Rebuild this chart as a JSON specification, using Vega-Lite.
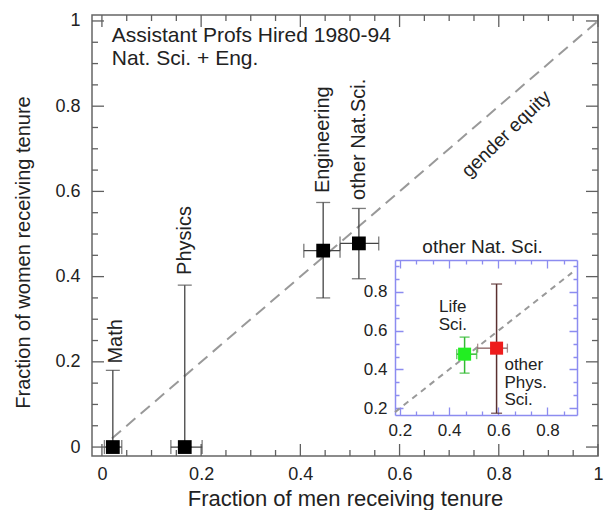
{
  "$schema": "https://vega.github.io/schema/vega-lite/v6.json",
  "width": 506,
  "height": 441,
  "autosize": {"type": "none"},
  "padding": {"left": 92, "top": 15, "right": 15, "bottom": 54},
  "background": "white",
  "config": {
    "view": {"stroke": "#666666", "strokeWidth": 1.5},
    "font": "Liberation Sans",
    "axis": {"labelFont": "Liberation Sans", "titleFont": "Liberation Sans", "labelColor": "#222222", "titleColor": "#222222", "titleFontWeight": "normal"},
    "text": {"font": "Liberation Sans", "color": "#222222"}
  },
  "datasets": {
    "main": [
      {"name": "Math", "x": 0.022, "y": 0, "xlo": 0.005, "xhi": 0.04, "ylo": 0, "yhi": 0.18},
      {"name": "Physics", "x": 0.167, "y": 0, "xlo": 0.139, "xhi": 0.202, "ylo": 0, "yhi": 0.38},
      {"name": "Engineering", "x": 0.446, "y": 0.461, "xlo": 0.407, "xhi": 0.48, "ylo": 0.35, "yhi": 0.574},
      {"name": "other Nat.Sci.", "x": 0.518, "y": 0.478, "xlo": 0.48, "xhi": 0.558, "ylo": 0.395, "yhi": 0.56}
    ],
    "labels": [
      {"t": "Math", "x": 0.028, "y": 0.196},
      {"t": "Physics", "x": 0.167, "y": 0.404},
      {"t": "Engineering", "x": 0.446, "y": 0.596},
      {"t": "other Nat.Sci.", "x": 0.518, "y": 0.58}
    ],
    "textbox": [
      {"t": "Assistant Profs Hired 1980-94", "x": 0.02, "y": 0.95},
      {"t": "Nat. Sci. + Eng.", "x": 0.02, "y": 0.897}
    ],
    "majors": [{"v": 0}, {"v": 0.2}, {"v": 0.4}, {"v": 0.6}, {"v": 0.8}, {"v": 1}],
    "minors": [{"v": 0.05}, {"v": 0.1}, {"v": 0.15}, {"v": 0.25}, {"v": 0.3}, {"v": 0.35}, {"v": 0.45}, {"v": 0.5}, {"v": 0.55}, {"v": 0.65}, {"v": 0.7}, {"v": 0.75}, {"v": 0.85}, {"v": 0.9}, {"v": 0.95}],
    "diag": [{"x": 0.02, "y": 0.02}, {"x": 1, "y": 1}],
    "ge": [{"t": "gender equity", "x": 0.815, "y": 0.735}],
    "life": [{"x": 0.463, "y": 0.479, "xlo": 0.431, "xhi": 0.512, "ylo": 0.381, "yhi": 0.567}],
    "phys": [{"x": 0.593, "y": 0.51, "xlo": 0.516, "xhi": 0.637, "ylo": 0.174, "yhi": 0.841}],
    "idiag": [{"x": 0.18, "y": 0.18}, {"x": 0.9, "y": 0.9}],
    "lifelab": [{"t": "Life", "x": 0.415, "y": 0.722}, {"t": "Sci.", "x": 0.415, "y": 0.629}],
    "physlab": [{"t": "other", "x": 0.625, "y": 0.422}, {"t": "Phys.", "x": 0.625, "y": 0.329}, {"t": "Sci.", "x": 0.625, "y": 0.241}],
    "ititle": [{"t": "other Nat. Sci.", "x": 0.536, "y": 1.033}]
  },
  "layer": [
    {
      "layer": [
        {
          "data": {"name": "diag"},
          "mark": {"type": "line", "color": "#999999", "strokeDash": [12, 7], "strokeWidth": 2},
          "encoding": {
            "x": {"field": "x", "type": "quantitative", "scale": {"domain": [-0.02, 1.0], "range": [0, 506], "nice": false, "zero": false},
              "axis": {"orient": "bottom", "values": [0, 0.2, 0.4, 0.6, 0.8, 1], "format": "~g", "ticks": false, "grid": false, "domain": false, "labelFontSize": 18, "labelPadding": 9, "labelFlush": false, "title": "Fraction of men receiving tenure", "titleFontSize": 22, "titlePadding": 5}},
            "y": {"field": "y", "type": "quantitative", "scale": {"domain": [-0.021, 1.014], "range": [441, 0], "nice": false, "zero": false},
              "axis": {"orient": "left", "values": [0, 0.2, 0.4, 0.6, 0.8, 1], "format": "~g", "ticks": false, "grid": false, "domain": false, "labelFontSize": 18, "labelPadding": 12, "labelFlush": false, "title": "Fraction of women receiving tenure", "titleFontSize": 20, "titlePadding": 21, "titleY": 237}}
          }
        },
        {
          "data": {"name": "majors"},
          "mark": {"type": "tick", "orient": "vertical", "size": 12, "thickness": 1.3, "color": "#606060", "opacity": 1, "yOffset": -6},
          "encoding": {
            "x": {"field": "v", "type": "quantitative", "scale": {"domain": [-0.02, 1.0], "range": [0, 506], "nice": false, "zero": false}, "axis": null},
            "y": {"datum": -0.021, "type": "quantitative", "scale": {"domain": [-0.021, 1.014], "range": [441, 0], "nice": false, "zero": false}, "axis": null}
          }
        },
        {
          "data": {"name": "majors"},
          "mark": {"type": "tick", "orient": "vertical", "size": 12, "thickness": 1.3, "color": "#606060", "opacity": 1, "yOffset": 6},
          "encoding": {
            "x": {"field": "v", "type": "quantitative", "scale": {"domain": [-0.02, 1.0], "range": [0, 506], "nice": false, "zero": false}, "axis": null},
            "y": {"datum": 1.014, "type": "quantitative", "scale": {"domain": [-0.021, 1.014], "range": [441, 0], "nice": false, "zero": false}, "axis": null}
          }
        },
        {
          "data": {"name": "minors"},
          "mark": {"type": "tick", "orient": "vertical", "size": 6, "thickness": 1.3, "color": "#606060", "opacity": 1, "yOffset": -3},
          "encoding": {
            "x": {"field": "v", "type": "quantitative", "scale": {"domain": [-0.02, 1.0], "range": [0, 506], "nice": false, "zero": false}, "axis": null},
            "y": {"datum": -0.021, "type": "quantitative", "scale": {"domain": [-0.021, 1.014], "range": [441, 0], "nice": false, "zero": false}, "axis": null}
          }
        },
        {
          "data": {"name": "minors"},
          "mark": {"type": "tick", "orient": "vertical", "size": 6, "thickness": 1.3, "color": "#606060", "opacity": 1, "yOffset": 3},
          "encoding": {
            "x": {"field": "v", "type": "quantitative", "scale": {"domain": [-0.02, 1.0], "range": [0, 506], "nice": false, "zero": false}, "axis": null},
            "y": {"datum": 1.014, "type": "quantitative", "scale": {"domain": [-0.021, 1.014], "range": [441, 0], "nice": false, "zero": false}, "axis": null}
          }
        },
        {
          "data": {"name": "majors"},
          "mark": {"type": "tick", "orient": "horizontal", "size": 12, "thickness": 1.3, "color": "#606060", "opacity": 1, "xOffset": 6},
          "encoding": {
            "y": {"field": "v", "type": "quantitative", "scale": {"domain": [-0.021, 1.014], "range": [441, 0], "nice": false, "zero": false}, "axis": null},
            "x": {"datum": -0.02, "type": "quantitative", "scale": {"domain": [-0.02, 1.0], "range": [0, 506], "nice": false, "zero": false}, "axis": null}
          }
        },
        {
          "data": {"name": "majors"},
          "mark": {"type": "tick", "orient": "horizontal", "size": 12, "thickness": 1.3, "color": "#606060", "opacity": 1, "xOffset": -6},
          "encoding": {
            "y": {"field": "v", "type": "quantitative", "scale": {"domain": [-0.021, 1.014], "range": [441, 0], "nice": false, "zero": false}, "axis": null},
            "x": {"datum": 1.0, "type": "quantitative", "scale": {"domain": [-0.02, 1.0], "range": [0, 506], "nice": false, "zero": false}, "axis": null}
          }
        },
        {
          "data": {"name": "minors"},
          "mark": {"type": "tick", "orient": "horizontal", "size": 6, "thickness": 1.3, "color": "#606060", "opacity": 1, "xOffset": 3},
          "encoding": {
            "y": {"field": "v", "type": "quantitative", "scale": {"domain": [-0.021, 1.014], "range": [441, 0], "nice": false, "zero": false}, "axis": null},
            "x": {"datum": -0.02, "type": "quantitative", "scale": {"domain": [-0.02, 1.0], "range": [0, 506], "nice": false, "zero": false}, "axis": null}
          }
        },
        {
          "data": {"name": "minors"},
          "mark": {"type": "tick", "orient": "horizontal", "size": 6, "thickness": 1.3, "color": "#606060", "opacity": 1, "xOffset": -3},
          "encoding": {
            "y": {"field": "v", "type": "quantitative", "scale": {"domain": [-0.021, 1.014], "range": [441, 0], "nice": false, "zero": false}, "axis": null},
            "x": {"datum": 1.0, "type": "quantitative", "scale": {"domain": [-0.02, 1.0], "range": [0, 506], "nice": false, "zero": false}, "axis": null}
          }
        },
        {
          "data": {"name": "textbox"},
          "mark": {"type": "text", "align": "left", "baseline": "alphabetic", "fontSize": 21},
          "encoding": {
            "x": {"field": "x", "type": "quantitative", "scale": {"domain": [-0.02, 1.0], "range": [0, 506], "nice": false, "zero": false}, "axis": null},
            "y": {"field": "y", "type": "quantitative", "scale": {"domain": [-0.021, 1.014], "range": [441, 0], "nice": false, "zero": false}, "axis": null},
            "text": {"field": "t"}
          }
        },
        {
          "data": {"name": "labels"},
          "mark": {"type": "text", "angle": 270, "align": "left", "baseline": "middle", "fontSize": 20},
          "encoding": {
            "x": {"field": "x", "type": "quantitative", "scale": {"domain": [-0.02, 1.0], "range": [0, 506], "nice": false, "zero": false}, "axis": null},
            "y": {"field": "y", "type": "quantitative", "scale": {"domain": [-0.021, 1.014], "range": [441, 0], "nice": false, "zero": false}, "axis": null},
            "text": {"field": "t"}
          }
        },
        {
          "data": {"name": "ge"},
          "mark": {"type": "text", "angle": 316, "align": "center", "baseline": "middle", "fontSize": 19},
          "encoding": {
            "x": {"field": "x", "type": "quantitative", "scale": {"domain": [-0.02, 1.0], "range": [0, 506], "nice": false, "zero": false}, "axis": null},
            "y": {"field": "y", "type": "quantitative", "scale": {"domain": [-0.021, 1.014], "range": [441, 0], "nice": false, "zero": false}, "axis": null},
            "text": {"field": "t"}
          }
        },
        {
          "data": {"name": "main"},
          "mark": {"type": "errorbar", "ticks": true, "size": 14, "thickness": 1.3, "color": "#444444"},
          "encoding": {
            "x": {"field": "x", "type": "quantitative", "scale": {"domain": [-0.02, 1.0], "range": [0, 506], "nice": false, "zero": false}, "axis": null},
            "y": {"field": "ylo", "type": "quantitative", "scale": {"domain": [-0.021, 1.014], "range": [441, 0], "nice": false, "zero": false}, "axis": null},
            "y2": {"field": "yhi"}
          }
        },
        {
          "data": {"name": "main"},
          "mark": {"type": "errorbar", "ticks": true, "size": 14, "thickness": 1.3, "color": "#444444"},
          "encoding": {
            "y": {"field": "y", "type": "quantitative", "scale": {"domain": [-0.021, 1.014], "range": [441, 0], "nice": false, "zero": false}, "axis": null},
            "x": {"field": "xlo", "type": "quantitative", "scale": {"domain": [-0.02, 1.0], "range": [0, 506], "nice": false, "zero": false}, "axis": null},
            "x2": {"field": "xhi"}
          }
        },
        {
          "data": {"name": "main"},
          "mark": {"type": "square", "filled": true, "size": 190, "color": "black", "opacity": 1},
          "encoding": {
            "x": {"field": "x", "type": "quantitative", "scale": {"domain": [-0.02, 1.0], "range": [0, 506], "nice": false, "zero": false}, "axis": null},
            "y": {"field": "y", "type": "quantitative", "scale": {"domain": [-0.021, 1.014], "range": [441, 0], "nice": false, "zero": false}, "axis": null}
          }
        }
      ],
      "resolve": {"axis": {"x": "independent", "y": "independent"}}
    },
    {
      "layer": [
        {
          "data": {"name": "idiag"},
          "mark": {"type": "line", "color": "#999999", "strokeDash": [6, 5], "strokeWidth": 2},
          "encoding": {
            "x": {"field": "x", "type": "quantitative", "scale": {"domain": [0.18, 0.92], "range": [303, 485], "nice": false, "zero": false},
              "axis": {"orient": "bottom", "offset": -41, "values": [0.2, 0.4, 0.6, 0.8], "format": "~g", "ticks": false, "grid": false, "domain": true, "domainColor": "#8c8cf0", "domainWidth": 1.5, "labelFontSize": 17, "labelPadding": 7, "labelFlush": false, "title": null}},
            "y": {"field": "y", "type": "quantitative", "scale": {"domain": [0.165, 0.965], "range": [400, 245], "nice": false, "zero": false},
              "axis": {"orient": "left", "offset": -303, "values": [0.2, 0.4, 0.6, 0.8], "format": "~g", "ticks": false, "grid": false, "domain": true, "domainColor": "#8c8cf0", "domainWidth": 1.5, "labelFontSize": 17, "labelPadding": 8, "labelFlush": false, "title": null}}
          }
        },
        {
          "data": {"name": "lifelab"},
          "mark": {"type": "text", "align": "center", "baseline": "middle", "fontSize": 17},
          "encoding": {
            "x": {"field": "x", "type": "quantitative", "scale": {"domain": [0.18, 0.92], "range": [303, 485], "nice": false, "zero": false},
              "axis": {"orient": "top", "values": [0.2667,0.3333,0.4667,0.5333,0.6667,0.7333,0.8667], "labels": false, "domain": false, "ticks": false, "title": null, "grid": true, "gridColor": "#8c8cf0", "gridWidth": 1.3, "gridOpacity": 1, "gridDash": [4, 147]}},
            "y": {"field": "y", "type": "quantitative", "scale": {"domain": [0.165, 0.965], "range": [400, 245], "nice": false, "zero": false},
              "axis": {"orient": "left", "values": [0.2667,0.3333,0.4667,0.5333,0.6667,0.7333,0.8667,0.9333], "labels": false, "domain": false, "ticks": false, "title": null, "grid": true, "gridColor": "#8c8cf0", "gridWidth": 1.3, "gridOpacity": 1, "gridDash": [4, 174]}},
            "text": {"field": "t"}
          }
        },
        {
          "data": {"name": "physlab"},
          "mark": {"type": "text", "align": "left", "baseline": "middle", "fontSize": 17},
          "encoding": {
            "x": {"field": "x", "type": "quantitative", "scale": {"domain": [0.18, 0.92], "range": [303, 485], "nice": false, "zero": false},
              "axis": {"orient": "bottom", "offset": -196, "values": [0.2, 0.4, 0.6, 0.8], "labels": false, "domain": true, "domainColor": "#8c8cf0", "domainWidth": 1.5, "title": null, "ticks": false, "grid": false}},
            "y": {"field": "y", "type": "quantitative", "scale": {"domain": [0.165, 0.965], "range": [400, 245], "nice": false, "zero": false},
              "axis": {"orient": "left", "offset": -485, "values": [0.2, 0.4, 0.6, 0.8], "labels": false, "domain": true, "domainColor": "#8c8cf0", "domainWidth": 1.5, "title": null, "ticks": false, "grid": false}},
            "text": {"field": "t"}
          }
        },
        {
          "data": {"name": "ititle"},
          "mark": {"type": "text", "align": "center", "baseline": "middle", "fontSize": 19},
          "encoding": {
            "x": {"field": "x", "type": "quantitative", "scale": {"domain": [0.18, 0.92], "range": [303, 485], "nice": false, "zero": false},
              "axis": {"orient": "top", "values": [0.2, 0.4, 0.6, 0.8], "labels": false, "domain": false, "ticks": false, "title": null, "grid": true, "gridColor": "#8c8cf0", "gridWidth": 1.3, "gridOpacity": 1, "gridDash": [8, 139]}},
            "y": {"field": "y", "type": "quantitative", "scale": {"domain": [0.165, 0.965], "range": [400, 245], "nice": false, "zero": false},
              "axis": {"orient": "left", "values": [0.2, 0.4, 0.6, 0.8], "labels": false, "domain": false, "ticks": false, "title": null, "grid": true, "gridColor": "#8c8cf0", "gridWidth": 1.3, "gridOpacity": 1, "gridDash": [8, 166]}},
            "text": {"field": "t"}
          }
        },
        {
          "data": {"name": "phys"},
          "mark": {"type": "errorbar", "ticks": true, "size": 11, "thickness": 1.5, "color": "#5a3030"},
          "encoding": {
            "x": {"field": "x", "type": "quantitative", "scale": {"domain": [0.18, 0.92], "range": [303, 485], "nice": false, "zero": false}, "axis": null},
            "y": {"field": "ylo", "type": "quantitative", "scale": {"domain": [0.165, 0.965], "range": [400, 245], "nice": false, "zero": false}, "axis": null},
            "y2": {"field": "yhi"}
          }
        },
        {
          "data": {"name": "phys"},
          "mark": {"type": "errorbar", "ticks": true, "size": 9, "thickness": 1.3, "color": "#886060"},
          "encoding": {
            "y": {"field": "y", "type": "quantitative", "scale": {"domain": [0.165, 0.965], "range": [400, 245], "nice": false, "zero": false}, "axis": null},
            "x": {"field": "xlo", "type": "quantitative", "scale": {"domain": [0.18, 0.92], "range": [303, 485], "nice": false, "zero": false}, "axis": null},
            "x2": {"field": "xhi"}
          }
        },
        {
          "data": {"name": "life"},
          "mark": {"type": "errorbar", "ticks": true, "size": 10, "thickness": 1.5, "color": "#33bb33"},
          "encoding": {
            "x": {"field": "x", "type": "quantitative", "scale": {"domain": [0.18, 0.92], "range": [303, 485], "nice": false, "zero": false}, "axis": null},
            "y": {"field": "ylo", "type": "quantitative", "scale": {"domain": [0.165, 0.965], "range": [400, 245], "nice": false, "zero": false}, "axis": null},
            "y2": {"field": "yhi"}
          }
        },
        {
          "data": {"name": "life"},
          "mark": {"type": "errorbar", "ticks": true, "size": 10, "thickness": 1.5, "color": "#33bb33"},
          "encoding": {
            "y": {"field": "y", "type": "quantitative", "scale": {"domain": [0.165, 0.965], "range": [400, 245], "nice": false, "zero": false}, "axis": null},
            "x": {"field": "xlo", "type": "quantitative", "scale": {"domain": [0.18, 0.92], "range": [303, 485], "nice": false, "zero": false}, "axis": null},
            "x2": {"field": "xhi"}
          }
        },
        {
          "data": {"name": "life"},
          "mark": {"type": "square", "filled": true, "size": 170, "color": "#22ee22", "opacity": 1},
          "encoding": {
            "x": {"field": "x", "type": "quantitative", "scale": {"domain": [0.18, 0.92], "range": [303, 485], "nice": false, "zero": false}, "axis": null},
            "y": {"field": "y", "type": "quantitative", "scale": {"domain": [0.165, 0.965], "range": [400, 245], "nice": false, "zero": false}, "axis": null}
          }
        },
        {
          "data": {"name": "phys"},
          "mark": {"type": "square", "filled": true, "size": 170, "color": "#ee1c1c", "opacity": 1},
          "encoding": {
            "x": {"field": "x", "type": "quantitative", "scale": {"domain": [0.18, 0.92], "range": [303, 485], "nice": false, "zero": false}, "axis": null},
            "y": {"field": "y", "type": "quantitative", "scale": {"domain": [0.165, 0.965], "range": [400, 245], "nice": false, "zero": false}, "axis": null}
          }
        }
      ],
      "resolve": {"axis": {"x": "independent", "y": "independent"}}
    }
  ],
  "resolve": {"scale": {"x": "independent", "y": "independent"}, "axis": {"x": "independent", "y": "independent"}}
}
